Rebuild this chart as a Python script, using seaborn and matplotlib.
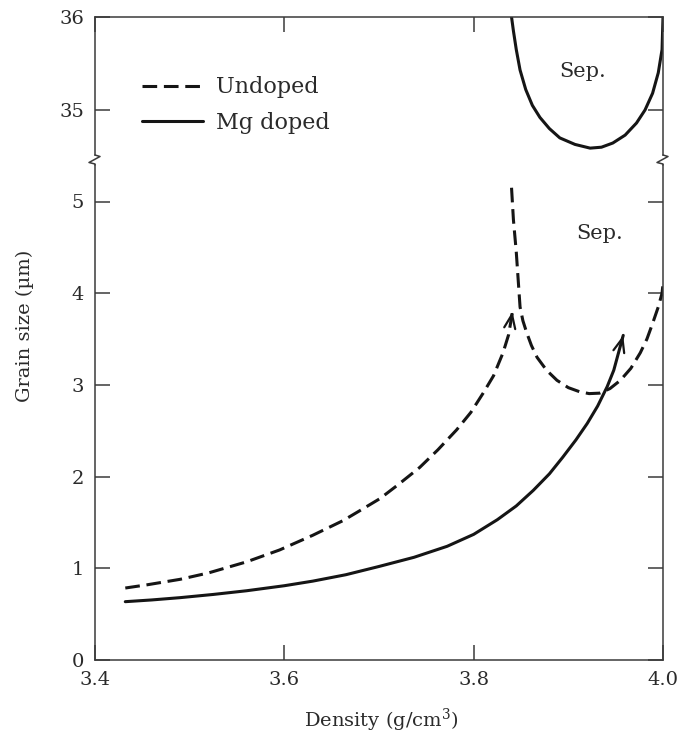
import matplotlib
matplotlib.use("Agg")
import matplotlib.pyplot as plt
import seaborn as sns
from matplotlib.lines import Line2D

# ---------------- data ----------------
undoped_x = [3.432, 3.455, 3.49, 3.52, 3.56, 3.595, 3.63, 3.662, 3.68, 3.701, 3.72, 3.743,
             3.762, 3.782, 3.797, 3.810, 3.821, 3.831, 3.837, 3.841]
undoped_y = [0.785, 0.82, 0.88, 0.95, 1.07, 1.20, 1.36, 1.52, 1.63, 1.76, 1.91, 2.10,
             2.29, 2.51, 2.70, 2.91, 3.10, 3.35, 3.55, 3.80]

undoped_sep_x = [3.840, 3.842, 3.845, 3.847, 3.849, 3.852, 3.856, 3.861, 3.867, 3.877, 3.888,
                 3.900, 3.912, 3.922, 3.933, 3.944, 3.955, 3.966, 3.976, 3.983, 3.989,
                 3.995, 3.999, 4.0]
undoped_sep_y = [5.15, 4.80, 4.45, 4.15, 3.85, 3.70, 3.57, 3.43, 3.30, 3.16, 3.05,
                 2.97, 2.925, 2.905, 2.91, 2.96, 3.05, 3.18, 3.35, 3.50, 3.67,
                 3.85, 4.00, 4.10]

mg_x = [3.432, 3.46, 3.49, 3.525, 3.56, 3.60, 3.63, 3.665, 3.70, 3.737, 3.772, 3.80, 3.825,
        3.845, 3.863, 3.88, 3.894, 3.908, 3.920, 3.931, 3.941, 3.948, 3.953, 3.958]
mg_y = [0.636, 0.655, 0.68, 0.715, 0.755, 0.81, 0.86, 0.93, 1.02, 1.12, 1.24, 1.37, 1.53,
        1.68, 1.85, 2.03, 2.21, 2.40, 2.58, 2.77, 2.98, 3.16, 3.35, 3.54]

mg_sep_x = [3.840, 3.842, 3.845, 3.849, 3.855, 3.862, 3.870, 3.880, 3.891, 3.907, 3.923,
            3.935, 3.947, 3.960, 3.972, 3.981, 3.989, 3.995, 3.999, 4.0]
mg_sep_y = [36.0, 35.85, 35.65, 35.43, 35.22, 35.05, 34.92, 34.80, 34.70, 34.63, 34.59,
            34.60, 34.645, 34.73, 34.86, 35.00, 35.18, 35.40, 35.65, 36.0]

series_labels = ["Undoped", "Mg doped"]
x_ticks = [3.4, 3.6, 3.8, 4.0]
x_tick_labels = ["3.4", "3.6", "3.8", "4.0"]
y_ticks_low = [0, 1, 2, 3, 4, 5]
y_ticks_high = [35, 36]
sep_text = "Sep."
sep_low_pos = (3.933, 4.65)
sep_high_pos = (3.915, 35.41)
x_label = "Density (g/cm$^3$)"
y_label = "Grain size (µm)"

# ---------------- style ----------------
sns.set_theme(style="ticks")
plt.rcParams["font.family"] = ["DejaVu Serif"]
plt.rcParams["mathtext.fontset"] = "dejavuserif"
TXT = "#2a2a2a"
LINE = "#151515"
SPINE = "#3a3a3a"
LW = 2.2
DASH = (0, (4.8, 2.2))

W, H = 680, 740
fig = plt.figure(figsize=(W / 100, H / 100), dpi=100)


def fx(px):
    return px / W


def fy(py):
    return 1 - py / H


L, R = 95, 663
TOP, BRK_T, BRK_B, BOT = 17, 155, 165, 660
ax_top = fig.add_axes([fx(L), fy(BRK_T), (R - L) / W, (BRK_T - TOP) / H])
ax_bot = fig.add_axes([fx(L), fy(BOT), (R - L) / W, (BOT - BRK_B) / H])

# ---------------- curves ----------------
sns.lineplot(x=undoped_x, y=undoped_y, ax=ax_bot, color=LINE, lw=LW,
             linestyle=DASH, sort=False, estimator=None, label=series_labels[0])
sns.lineplot(x=undoped_sep_x, y=undoped_sep_y, ax=ax_bot, color=LINE, lw=LW,
             linestyle=DASH, sort=False, estimator=None)
sns.lineplot(x=mg_x, y=mg_y, ax=ax_bot, color=LINE, lw=LW,
             sort=False, estimator=None, label=series_labels[1])
sns.lineplot(x=mg_sep_x, y=mg_sep_y, ax=ax_top, color=LINE, lw=LW,
             sort=False, estimator=None)

handles, labels = ax_bot.get_legend_handles_labels()
if ax_bot.get_legend() is not None:
    ax_bot.get_legend().remove()


def add_arrow(ax, xs, ys):
    tip = (xs[-1], ys[-1])
    tail = (xs[-1] - 0.15 * (xs[-1] - xs[-2]), ys[-1] - 0.15 * (ys[-1] - ys[-2]))
    ax.annotate("", xy=tip, xytext=tail,
                arrowprops=dict(arrowstyle="->,head_length=0.5,head_width=0.2",
                                color=LINE, lw=1.6, shrinkA=0, shrinkB=0,
                                mutation_scale=20))


add_arrow(ax_bot, undoped_x, undoped_y)
add_arrow(ax_bot, mg_x, mg_y)

ax_bot.text(*sep_low_pos, sep_text, ha="center", va="center", fontsize=15, color=TXT)
ax_top.text(*sep_high_pos, sep_text, ha="center", va="center", fontsize=15, color=TXT)

# ---------------- axes ----------------
for ax in (ax_top, ax_bot):
    ax.set_xlim(3.4, 4.0)
    ax.set_xlabel("")
    ax.set_ylabel("")
    ax.set_facecolor("white")
    for s in ax.spines.values():
        s.set_color(SPINE)
        s.set_linewidth(1.1)
        s.set_visible(True)
    ax.tick_params(direction="in", length=11, width=1.1, color=SPINE,
                   labelsize=14, labelcolor=TXT, pad=8)

ax_top.set_ylim(36 - (BRK_T - TOP) / 93.0, 36)
ax_bot.set_ylim(0, (BOT - BRK_B) / 91.7)

ax_top.spines["bottom"].set_visible(False)
ax_bot.spines["top"].set_visible(False)

ax_top.set_xticks(x_ticks)
ax_top.tick_params(axis="x", bottom=False, top=True, labelbottom=False, labeltop=False)
ax_top.set_yticks(y_ticks_high)
ax_top.set_yticklabels([str(v) for v in y_ticks_high])
ax_top.tick_params(axis="y", left=True, right=True, labelleft=True)

ax_bot.set_xticks(x_ticks)
ax_bot.set_xticklabels(x_tick_labels)
ax_bot.tick_params(axis="x", bottom=True, top=False)
ax_bot.set_yticks(y_ticks_low)
ax_bot.set_yticklabels([str(v) for v in y_ticks_low])
ax_bot.tick_params(axis="y", left=True, right=True, labelleft=True)

# ---------------- legend ----------------
ax_top.legend(handles, labels, loc="center left",
              bbox_to_anchor=((142 - L) / (R - L), (BRK_T - 105) / (BRK_T - TOP)),
              frameon=False, fontsize=16, handlelength=2.75, handletextpad=0.6,
              labelspacing=0.6, borderpad=0, borderaxespad=0, labelcolor=TXT)

# ---------------- axis break marks ----------------
for xs in (L, R):
    pts = [(xs, BRK_T), (xs + 5, BRK_T + 1.5), (xs - 6, BRK_B - 2.5), (xs, BRK_B - 1), (xs, BRK_B)]
    fig.add_artist(Line2D([fx(p[0]) for p in pts], [fy(p[1]) for p in pts],
                          color=SPINE, lw=1.1, transform=fig.transFigure))

# ---------------- labels ----------------
fig.text(fx(381), fy(720), x_label, ha="center", va="center", fontsize=14, color=TXT)
fig.text(fx(25), fy(326), y_label, ha="center", va="center", rotation=90,
         fontsize=14, color=TXT)

fig.savefig("out.png", dpi=100, facecolor="white")
